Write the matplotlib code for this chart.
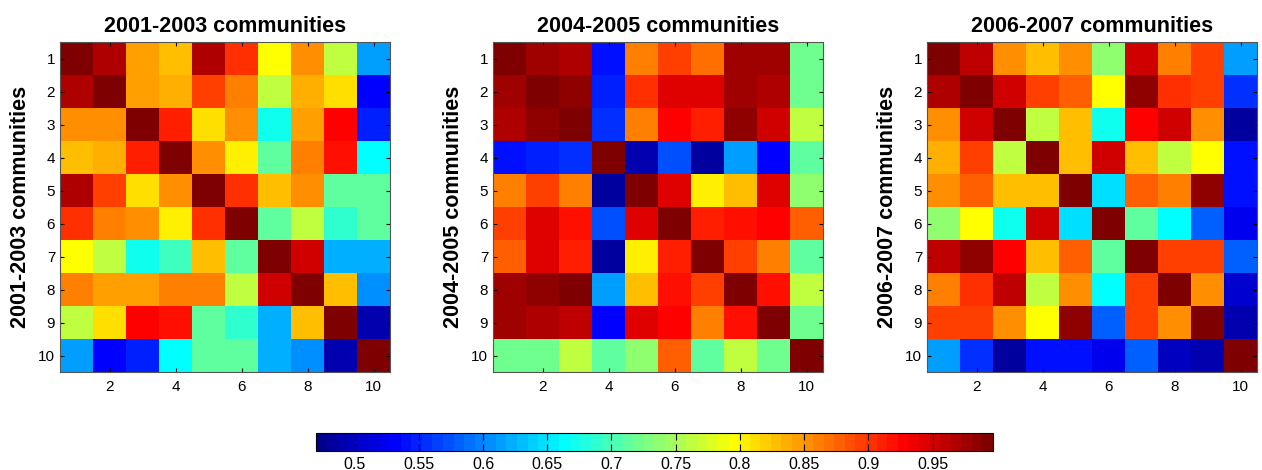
import numpy as np
import matplotlib
matplotlib.use("Agg")
import matplotlib.pyplot as plt
from matplotlib.colors import ListedColormap

titles = ["2001-2003 communities", "2004-2005 communities", "2006-2007 communities"]
d = 0.997

m_2001_2003 = [
    [d,     0.965, 0.845, 0.83,  0.965, 0.90,  0.795, 0.85,  0.765, 0.61],
    [0.965, d,     0.845, 0.84,  0.895, 0.865, 0.76,  0.84,  0.81,  0.53],
    [0.85,  0.85,  d,     0.91,  0.81,  0.85,  0.668, 0.845, 0.93,  0.545],
    [0.83,  0.84,  0.91,  d,     0.85,  0.80,  0.71,  0.86,  0.915, 0.66],
    [0.965, 0.895, 0.81,  0.85,  d,     0.905, 0.825, 0.855, 0.715, 0.715],
    [0.905, 0.865, 0.85,  0.80,  0.905, d,     0.715, 0.765, 0.69,  0.71],
    [0.795, 0.76,  0.675, 0.70,  0.825, 0.715, d,     0.955, 0.62,  0.625],
    [0.86,  0.845, 0.845, 0.86,  0.86,  0.765, 0.955, d,     0.825, 0.605],
    [0.765, 0.81,  0.93,  0.915, 0.715, 0.69,  0.62,  0.825, d,     0.49],
    [0.615, 0.53,  0.545, 0.66,  0.715, 0.71,  0.625, 0.605, 0.49,  d],
]

m_2004_2005 = [
    [d,     0.975, 0.965, 0.536, 0.865, 0.895, 0.87,  0.975, 0.975, 0.72],
    [0.975, d,     0.985, 0.545, 0.90,  0.945, 0.945, 0.98,  0.965, 0.725],
    [0.965, 0.985, d,     0.56,  0.865, 0.925, 0.91,  0.985, 0.95,  0.76],
    [0.536, 0.545, 0.56,  d,     0.49,  0.57,  0.48,  0.61,  0.53,  0.71],
    [0.865, 0.895, 0.865, 0.48,  d,     0.945, 0.805, 0.83,  0.945, 0.74],
    [0.895, 0.945, 0.92,  0.57,  0.945, d,     0.91,  0.915, 0.925, 0.88],
    [0.875, 0.945, 0.91,  0.48,  0.805, 0.91,  d,     0.895, 0.865, 0.71],
    [0.98,  0.985, 0.99,  0.61,  0.83,  0.915, 0.89,  d,     0.92,  0.76],
    [0.98,  0.965, 0.96,  0.53,  0.945, 0.93,  0.865, 0.92,  d,     0.725],
    [0.72,  0.725, 0.76,  0.71,  0.74,  0.88,  0.71,  0.76,  0.72,  d],
]

m_2006_2007 = [
    [d,     0.96,  0.855, 0.83,  0.855, 0.74,  0.955, 0.86,  0.89,  0.61],
    [0.965, d,     0.95,  0.895, 0.88,  0.795, 0.985, 0.90,  0.89,  0.555],
    [0.855, 0.95,  d,     0.765, 0.825, 0.668, 0.93,  0.955, 0.85,  0.48],
    [0.835, 0.895, 0.765, d,     0.83,  0.955, 0.83,  0.765, 0.795, 0.536],
    [0.855, 0.88,  0.825, 0.83,  d,     0.645, 0.88,  0.86,  0.985, 0.536],
    [0.74,  0.795, 0.668, 0.955, 0.645, d,     0.71,  0.66,  0.585, 0.52],
    [0.96,  0.985, 0.93,  0.83,  0.88,  0.71,  d,     0.895, 0.895, 0.58],
    [0.86,  0.90,  0.96,  0.765, 0.855, 0.66,  0.895, d,     0.85,  0.51],
    [0.895, 0.895, 0.85,  0.795, 0.985, 0.58,  0.895, 0.85,  d,     0.49],
    [0.61,  0.555, 0.48,  0.536, 0.536, 0.52,  0.58,  0.50,  0.49,  d],
]

matrices = [m_2001_2003, m_2004_2005, m_2006_2007]
xticks = [2, 4, 6, 8, 10]
yticks = [1, 2, 3, 4, 5, 6, 7, 8, 9, 10]
cbar_ticks = [0.5, 0.55, 0.6, 0.65, 0.7, 0.75, 0.8, 0.85, 0.9, 0.95]
cbar_labels = ["0.5", "0.55", "0.6", "0.65", "0.7", "0.75", "0.8", "0.85", "0.9", "0.95"]
vmin, vmax = 0.47, 0.997


def matlab_jet(m=64):
    # MATLAB's jet(m) colormap definition
    n = int(np.ceil(m / 4))
    u = np.concatenate([np.arange(1, n + 1) / n, np.ones(n - 1), np.arange(n, 0, -1) / n])
    g = int(np.ceil(n / 2)) - (1 if m % 4 == 1 else 0) + np.arange(1, len(u) + 1)
    r = g + n
    b = g - n
    g = g[g <= m]
    r = r[r <= m]
    b = b[b >= 1]
    J = np.zeros((m, 3))
    J[r - 1, 0] = u[:len(r)]
    J[g - 1, 1] = u[:len(g)]
    J[b - 1, 2] = u[len(u) - len(b):]
    return ListedColormap(J)


plt.rcParams['font.family'] = ['Liberation Sans', 'DejaVu Sans']

W, H = 1262, 470
fig = plt.figure(figsize=(W / 100, H / 100), dpi=100)
cmap = matlab_jet(64)

lefts = [60, 493, 927]
top, bottom = 42, 372
size = 330
im = None
for i, (m, t) in enumerate(zip(matrices, titles)):
    ax = fig.add_axes([lefts[i] / W, 1 - bottom / H, size / W, (bottom - top) / H])
    arr = np.array(m)
    im = ax.imshow(arr, cmap=cmap, vmin=vmin, vmax=vmax, aspect='auto',
                   extent=[0.5, 10.5, 10.5, 0.5], interpolation='nearest')
    ax.set_xticks(xticks)
    ax.set_yticks(yticks)
    ax.tick_params(direction='in', top=True, right=True, length=3, width=0.8,
                   labelsize=11, colors='black')
    ax.tick_params(axis='x', pad=6)
    ax.set_title(t, fontsize=15.5, fontweight='bold', pad=7)
    ax.set_ylabel(t, fontsize=15.5, fontweight='bold', labelpad=5)
    for s in ax.spines.values():
        s.set_linewidth(0.8)
        s.set_color('#555555')

cax = fig.add_axes([316 / W, 1 - 451 / H, (993 - 316) / W, 18 / H])
cb = fig.colorbar(im, cax=cax, orientation='horizontal', ticks=cbar_ticks)
cb.set_ticklabels(cbar_labels)
cax.tick_params(direction='in', top=True, bottom=True, length=5, width=0.8,
                labelsize=11.5, pad=4)
cb.outline.set_linewidth(0.8)

fig.savefig("out.png", dpi=100)
